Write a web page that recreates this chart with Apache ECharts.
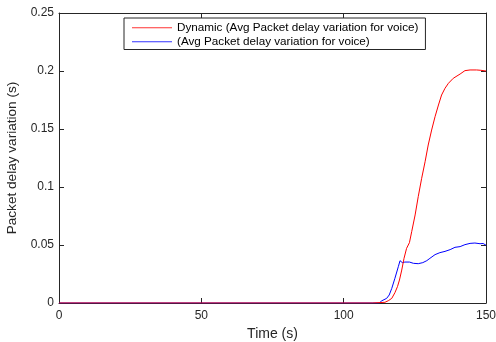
<!DOCTYPE html>
<html>
<head>
<meta charset="utf-8">
<script src="https://cdn.jsdelivr.net/npm/echarts@6/dist/echarts.min.js"></script>
<style>html,body{margin:0;padding:0;background:#fff;}#c{width:496px;height:342px;}</style>
</head>
<body>
<div id="c"></div>
<script>
const xTicks = [0, 50, 100, 150];
const yTicks = [0, 0.05, 0.1, 0.15, 0.2, 0.25];
const seriesNames = ['Dynamic (Avg Packet delay variation for voice)', '(Avg Packet delay variation for voice)'];

const redTime = [0, 110, 114.5, 115.7, 116.9, 118.0, 118.9, 119.6, 120.4, 121.2, 122.1, 123.1, 123.9, 125.1, 126.2, 127.4, 128.6, 129.7, 130.9, 132.1, 133.3, 134.4, 135.6, 136.8, 138.5, 140.9, 142.6, 144.4, 146.7, 148.2, 150];
const redValues = [0, 0, 0.0006, 0.002, 0.004, 0.0089, 0.0141, 0.0198, 0.0284, 0.0385, 0.0471, 0.052, 0.0615, 0.0759, 0.0917, 0.1075, 0.1218, 0.1362, 0.1491, 0.1606, 0.1707, 0.1793, 0.1851, 0.1894, 0.1937, 0.1974, 0.2003, 0.2009, 0.2009, 0.2006, 0.2];

const blueTime = [0, 110, 112.5, 113.4, 115.1, 116.0, 116.9, 118.0, 119.2, 119.8, 120.6, 121.5, 123.1, 124.5, 126.2, 127.8, 129.2, 130.3, 132.1, 133.8, 135.6, 137.4, 139.1, 140.9, 142.6, 144.4, 146.1, 147.9, 149, 150];
const blueValues = [0, 0, 0, 0.0019, 0.004, 0.0069, 0.0126, 0.0213, 0.0313, 0.0365, 0.0348, 0.0353, 0.0353, 0.0342, 0.0339, 0.0348, 0.0365, 0.0385, 0.0417, 0.0434, 0.0445, 0.046, 0.048, 0.0486, 0.0503, 0.0514, 0.0517, 0.0511, 0.0513, 0.0498];

const pair = (t, v) => t.map((x, i) => [x, v[i]]);
const FONT = '"Liberation Sans", Arial, sans-serif';
const AX = '#262626';

const chart = echarts.init(document.getElementById('c'), null, {renderer: 'canvas'});
const xBase = {
  type: 'value', min: xTicks[0], max: xTicks[xTicks.length - 1], interval: xTicks[1] - xTicks[0],
  splitLine: {show: false},
  axisLine: {show: true, onZero: false, lineStyle: {color: AX, width: 1}},
  axisTick: {show: true, inside: true, length: 5, lineStyle: {color: AX}}
};
const yBase = {
  type: 'value', min: yTicks[0], max: yTicks[yTicks.length - 1], interval: yTicks[1] - yTicks[0],
  splitLine: {show: false},
  axisLine: {show: true, onZero: false, lineStyle: {color: AX, width: 1}},
  axisTick: {show: true, inside: true, length: 5, lineStyle: {color: AX}}
};
chart.setOption({
  animation: false,
  backgroundColor: '#fff',
  textStyle: {fontFamily: FONT},
  grid: {left: 59, right: 10, top: 13, bottom: 39, containLabel: false, outerBoundsMode: 'none'},
  xAxis: [
    Object.assign({}, xBase, {
      position: 'bottom',
      name: 'Time (s)', nameLocation: 'middle', nameGap: 23,
      nameTextStyle: {color: AX, fontSize: 14, fontFamily: FONT},
      axisLabel: {show: true, color: AX, fontSize: 12, margin: 7, fontFamily: FONT}
    }),
    Object.assign({}, xBase, {position: 'top', axisLabel: {show: false}})
  ],
  yAxis: [
    Object.assign({}, yBase, {
      position: 'left',
      name: 'Packet delay variation (s)', nameLocation: 'middle', nameGap: 27,
      nameTextStyle: {color: AX, fontSize: 13.6, fontFamily: FONT},
      axisLabel: {show: true, color: AX, fontSize: 12, margin: 5, fontFamily: FONT,
        formatter: v => String(parseFloat(v.toFixed(2)))}
    }),
    Object.assign({}, yBase, {position: 'right', axisLabel: {show: false}})
  ],
  legend: {
    left: 124, top: 18, orient: 'vertical',
    data: seriesNames.map(n => ({name: n, icon: 'rect'})),
    itemWidth: 40, itemHeight: 1.2, itemGap: 1.5,
    padding: [3.5, 7, 1.5, 8],
    backgroundColor: '#fff',
    borderColor: AX, borderWidth: 1, borderRadius: 0,
    textStyle: {color: '#000', fontSize: 11.7, fontFamily: FONT, lineHeight: 12.5}
  },
  series: [
    {name: seriesNames[0], type: 'line', data: pair(redTime, redValues), symbol: 'none',
     lineStyle: {color: '#ff0000', width: 1}, itemStyle: {color: '#ff3333'}, z: 3},
    {name: seriesNames[1], type: 'line', data: pair(blueTime, blueValues), symbol: 'none',
     lineStyle: {color: '#0000ff', width: 1}, itemStyle: {color: '#3333ff'}, z: 2}
  ]
});
</script>
</body>
</html>
